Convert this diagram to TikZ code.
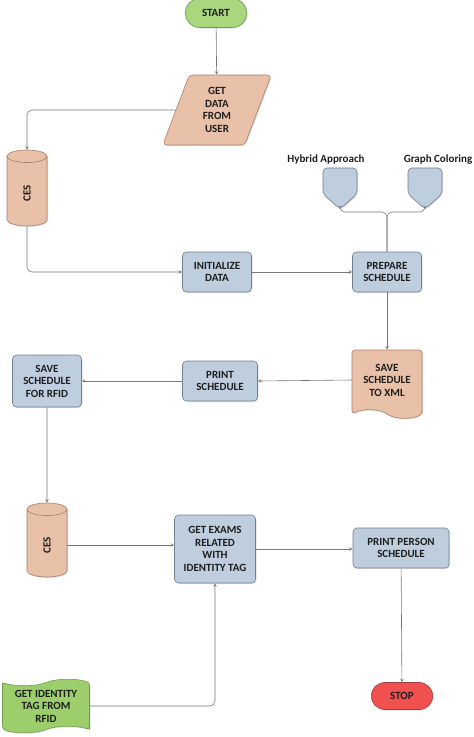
\documentclass[tikz,border=0pt]{standalone}
\usepackage{fontspec}
\setmainfont{Carlito}
\usetikzlibrary{shapes.geometric,shapes.misc,shapes.symbols,shadows}
\tikzset{>=stealth}
\definecolor{startgreen}{RGB}{170,214,126}
\definecolor{taggreen}{RGB}{156,206,108}
\definecolor{edgegreen}{RGB}{112,156,78}
\definecolor{peach}{RGB}{233,192,168}
\definecolor{edgepeach}{RGB}{166,128,108}
\definecolor{steelblue}{RGB}{190,206,222}
\definecolor{edgeblue}{RGB}{116,128,144}
\definecolor{stopred}{RGB}{240,80,80}
\definecolor{edgered}{RGB}{168,58,58}
\definecolor{linegray}{RGB}{120,120,120}
\definecolor{inkgray}{RGB}{30,30,30}

\tikzset{
  every node/.style={font=\fontsize{11}{12.5}\selectfont\bfseries, align=center, text=inkgray},
  boxshadow/.style={drop shadow={opacity=0.25, shadow xshift=1pt, shadow yshift=-1pt}},
  terminal/.style={rounded rectangle, draw=edgegreen, fill=startgreen, minimum width=68pt, minimum height=29pt, line width=0.6pt, boxshadow},
  inputbox/.style={trapezium, trapezium left angle=72, trapezium right angle=108, trapezium stretches=true, draw=edgepeach, fill=peach, minimum width=109pt, minimum height=70pt, rounded corners=4pt, line width=0.6pt, boxshadow},
  store/.style={cylinder, shape border rotate=90, aspect=0.9, draw=edgepeach, fill=peach, minimum width=40pt, minimum height=76pt, line width=0.6pt, boxshadow},
  stepbox/.style={rectangle, rounded corners=4pt, draw=edgeblue, fill=steelblue, minimum width=69pt, minimum height=40pt, inner sep=2pt, line width=0.6pt, boxshadow},
  docbox/.style={tape, tape bend top=none, tape bend bottom=out and in, tape bend height=8pt, draw=edgepeach, fill=peach, minimum width=70pt, minimum height=68pt, inner sep=1pt, rounded corners=3pt, line width=0.6pt, boxshadow},
  tagbox/.style={tape, shape border rotate=90, tape bend height=6pt, draw=edgegreen, fill=taggreen, minimum width=87pt, minimum height=53pt, inner sep=1pt, rounded corners=3pt, line width=0.6pt, boxshadow},
  pagelink/.style={signal, signal to=south, signal pointer angle=97, draw=edgeblue, fill=steelblue, minimum width=34pt, minimum height=29pt, rounded corners=4pt, line width=0.6pt, boxshadow},
  flow/.style={draw=linegray, line width=0.6pt, ->},
}

\begin{document}
\begin{tikzpicture}[x=1pt,y=-1pt]
\useasboundingbox (0,0) rectangle (474,737);
% nodes
\node[terminal] (start) at (216,13) {START};
\node[inputbox] (getdata) at (217,110) {GET\\DATA\\FROM\\USER};
\node[store] (ces1) at (27,193) {\rotatebox{90}{CES}};
\node[stepbox] (init) at (217,272) {INITIALIZE\\DATA};
\node[stepbox] (prep) at (387,272) {PREPARE\\SCHEDULE};
\node[pagelink, label={[xshift=-14pt]above:Hybrid Approach}] (hybrid) at (340,181) {};
\node[pagelink, label={[xshift=13pt]above:Graph Coloring}] (graph) at (425,181) {};
\node[docbox] (xml) at (387,380) {SAVE\\SCHEDULE\\TO XML};
\node[stepbox, minimum width=75pt] (print) at (220,381) {PRINT\\SCHEDULE};
\node[stepbox, minimum height=52pt] (rfid) at (47,381) {SAVE\\SCHEDULE\\FOR RFID};
\node[store, minimum height=74pt] (ces2) at (47,545) {\rotatebox{90}{CES}};
\node[stepbox, minimum width=81pt, minimum height=68pt] (exams) at (215,549) {GET EXAMS\\RELATED\\WITH\\IDENTITY TAG};
\node[stepbox, minimum width=96pt] (person) at (401,548) {PRINT PERSON\\SCHEDULE};
\node[terminal, fill=stopred, draw=edgered, minimum height=27pt] (stop) at (402,696) {STOP};
\node[tagbox] (tag) at (46,706) {GET IDENTITY\\TAG FROM\\RFID};
\coordinate (split) at (387,212);

% connectors
\draw[flow] (start) -- (getdata);
\draw[flow, rounded corners=5pt] (getdata.west) -| (ces1.north);
\draw[flow, rounded corners=5pt] (ces1.south) |- (init.west);
\draw[flow] (init) -- (prep);
\draw[flow, rounded corners=5pt] (prep.north) -- (split) -| (hybrid.south);
\draw[flow, rounded corners=5pt] (prep.north) -- (split) -| (graph.south);
\draw[flow] (prep) -- (xml);
\draw[flow] (xml.west) -- (print.east);
\draw[flow] (print) -- (rfid);
\draw[flow] (rfid) -- (ces2);
\draw[flow] (ces2.east) -- (ces2.east -| exams.west);
\draw[flow] (exams.east) -- (exams.east -| person.west);
\draw[flow] (person) -- (stop);
\draw[flow, rounded corners=5pt] (tag.east) -| (exams.south);
\end{tikzpicture}
\end{document}
